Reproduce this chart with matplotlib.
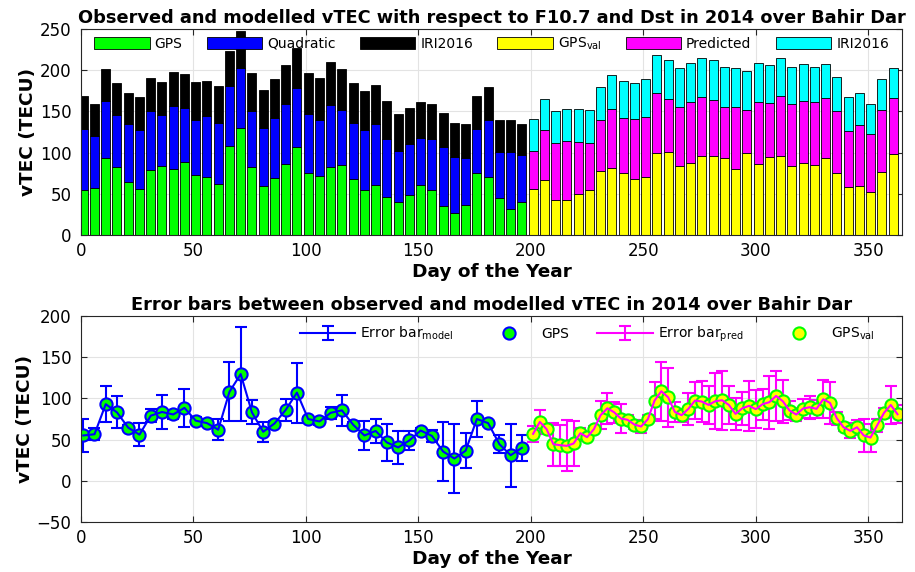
import numpy as np
import matplotlib
matplotlib.use("Agg")
import matplotlib.pyplot as plt

plt.rcParams['font.family'] = ['DejaVu Sans']
plt.rcParams['mathtext.fontset'] = 'dejavusans'

# ---- bar data (5-day steps) ----
days_fit = np.arange(1, 197, 5)
gps = [55, 56.5, 93, 83, 64.5, 56, 79, 83.5, 80.5, 88.5,
       73, 70, 62, 108, 129.5, 83, 59.5, 69.5, 86, 107,
       75, 72, 82.5, 85.5, 68, 55, 60.5, 46.5, 40.5, 49,
       61, 54.5, 35.5, 27, 36.5, 75, 70, 44.5, 31, 40]
quadratic = [74, 64, 70, 63, 70, 72, 71, 62, 76, 66,
             67, 74, 74, 73, 73, 68, 70, 72, 73, 71,
             72, 68, 75, 66, 68, 72, 74, 70, 61, 61,
             57, 62, 71, 68, 57, 54, 70, 56, 70, 57]
iri_fit = [40, 39, 38, 38, 38, 39, 40, 40, 41, 41,
           46, 43, 45, 42, 45, 46, 46, 48, 47, 49,
           49, 50, 52, 50, 49, 48, 47, 46, 45, 44,
           43, 42, 42, 41, 41, 40, 40, 39, 38, 38]

days_val = np.arange(201, 362, 5)
gps_val = [56.3, 67.2, 41.9, 41.9, 49.9, 55, 78, 81.7, 75.6, 68,
           70.8, 99.4, 100.6, 83.7, 87.7, 96.2, 96.2, 93.8, 80, 99.4,
           86, 95, 95.8, 84, 87, 85.3, 93.8, 75.6, 58.8, 59.6,
           52.3, 76.9, 97.8]
predicted = [46, 60, 70, 72, 63, 57, 62, 71, 66, 73,
             72, 73, 65, 72, 74, 71, 68, 62, 75, 52,
             75, 65, 73, 75, 76, 76, 72, 75, 68, 74,
             70, 75, 68]
iri_val = [38, 38, 39, 39, 40, 40, 40, 42, 45, 44,
           46, 46, 47, 47, 47, 48, 48, 48, 48, 48,
           48, 46, 46, 45, 44, 43, 42, 41, 41, 39,
           37, 37, 37]

# ---- error bar data ----
err_model = [19.5, 7, 21.5, 19.5, 3, 14, 8, 21, 5, 23,
             4.5, 3, 12.5, 36, 57, 14.5, 12, 3, 13, 36.5,
             3, 4, 7, 18.5, 3, 17.5, 14.5, 23, 20, 11.7,
             3, 7, 36, 41.7, 21, 21.4, 3, 11, 38.4, 16]

days_pred = np.arange(201, 364, 3)
gps_pred = [57, 71.5, 62.6, 44.4, 43.2, 42.4, 45.3, 57.8, 52.9, 62.6,
            79.6, 88, 83.2, 75.6, 74, 68.3, 65.9, 74.7, 97.4, 108.7,
            101.4, 83.6, 79.6, 87.3, 97.4, 96.2, 92.1, 96.6, 97.8, 92.1,
            81.2, 88, 91, 86.9, 93, 95.4, 103, 96.6, 85.3, 80.4,
            87.7, 89.3, 87.3, 99, 94.5, 76, 65, 60.6, 65, 55,
            52.5, 67.5, 82.4, 92, 80.8]
err_pred = [10, 14.5, 6, 26, 25, 31, 27, 6, 4, 4,
            17, 19, 12.5, 17, 6, 5, 8, 5, 23, 36,
            36, 12, 8, 19, 23, 25, 23, 34, 36, 23,
            19, 20, 30, 23, 19, 32, 30, 26, 12, 8,
            12, 14, 11, 23, 25, 8, 5, 9, 9, 20,
            17, 8, 6, 23, 11]

W, H = 915, 572
fig = plt.figure(figsize=(W / 100, H / 100), dpi=100)
ax1 = fig.add_axes([81 / W, 1 - 235 / H, 821 / W, 206 / H])
ax2 = fig.add_axes([81 / W, 1 - 522 / H, 821 / W, 206 / H])

title_font = dict(fontsize=12.8, fontweight='bold')
label_font = dict(fontsize=13.3, fontweight='bold')
legend_font = {'family': 'DejaVu Sans', 'size': 10}

# stacked bars
kw = dict(width=4, edgecolor='black', linewidth=0.6)
gps = np.array(gps)
quadratic = np.array(quadratic)
ax1.bar(days_fit, gps, color=(0, 1, 0), label='GPS', **kw)
ax1.bar(days_fit, quadratic, bottom=gps, color=(0, 0, 1), label='Quadratic', **kw)
ax1.bar(days_fit, iri_fit, bottom=gps + quadratic, color='black', label='IRI2016', **kw)

gps_val = np.array(gps_val)
predicted = np.array(predicted)
ax1.bar(days_val, gps_val, color=(1, 1, 0), label=r'GPS$_{\mathregular{val}}$', **kw)
ax1.bar(days_val, predicted, bottom=gps_val, color=(1, 0, 1), label='Predicted', **kw)
ax1.bar(days_val, iri_val, bottom=gps_val + predicted, color=(0, 1, 1), label='IRI2016', **kw)

ax1.set_xlim(0, 365)
ax1.set_ylim(0, 250)
ax1.set_yticks([0, 50, 100, 150, 200, 250])
ax1.set_title('Observed and modelled vTEC with respect to F10.7 and Dst in 2014 over Bahir Dar',
              pad=4, **title_font)
ax1.set_xlabel('Day of the Year', labelpad=2, **label_font)
ax1.set_ylabel('vTEC (TECU)', labelpad=2, **label_font)
ax1.legend(ncol=6, loc='upper center', frameon=False, prop=legend_font,
           handlelength=4.0, handleheight=0.95, handletextpad=0.35, columnspacing=1.75,
           borderaxespad=0.1)

# error bars
eb_model = ax2.errorbar(days_fit, gps, yerr=err_model, color=(0, 0, 1), lw=1.5,
                        capsize=4, capthick=1.5)
pt_gps, = ax2.plot(days_fit, gps, 'o', mfc=(0, 1, 0), mec=(0, 0, 1), ms=8.8, mew=1.5)
eb_pred = ax2.errorbar(days_pred, gps_pred, yerr=err_pred, color=(1, 0, 1), lw=1.5,
                       capsize=4, capthick=1.5)
pt_val, = ax2.plot(days_pred, gps_pred, 'o', mfc=(1, 1, 0), mec=(0, 1, 0), ms=8.8, mew=1.5)

ax2.set_xlim(0, 365)
ax2.set_ylim(-50, 200)
ax2.set_yticks([-50, 0, 50, 100, 150, 200])
ax2.set_title('Error bars between observed and modelled vTEC in 2014 over Bahir Dar',
              pad=4, **title_font)
ax2.set_xlabel('Day of the Year', labelpad=2, **label_font)
ax2.set_ylabel('vTEC (TECU)', labelpad=2, **label_font)
ax2.legend([eb_model, pt_gps, eb_pred, pt_val],
           [r'Error bar$_{\mathregular{model}}$', 'GPS', r'Error bar$_{\mathregular{pred}}$',
            r'GPS$_{\mathregular{val}}$'],
           ncol=4, loc='upper right', bbox_to_anchor=(0.978, 1.0), frameon=False,
           prop=legend_font, handlelength=4.0, handletextpad=0.35, columnspacing=2.0,
           borderaxespad=0.25)

for ax in (ax1, ax2):
    ax.set_xticks([0, 50, 100, 150, 200, 250, 300, 350])
    ax.grid(True, color='#e3e3e3', linewidth=0.8)
    ax.set_axisbelow(True)
    ax.tick_params(direction='in', top=True, right=True, length=4, labelsize=12,
                   color='#262626')
    ax.tick_params(axis='y', pad=7)
    ax.tick_params(axis='x', pad=5)
    for s in ax.spines.values():
        s.set_color('#262626')
        s.set_linewidth(0.8)

fig.savefig('out.png', dpi=100)
